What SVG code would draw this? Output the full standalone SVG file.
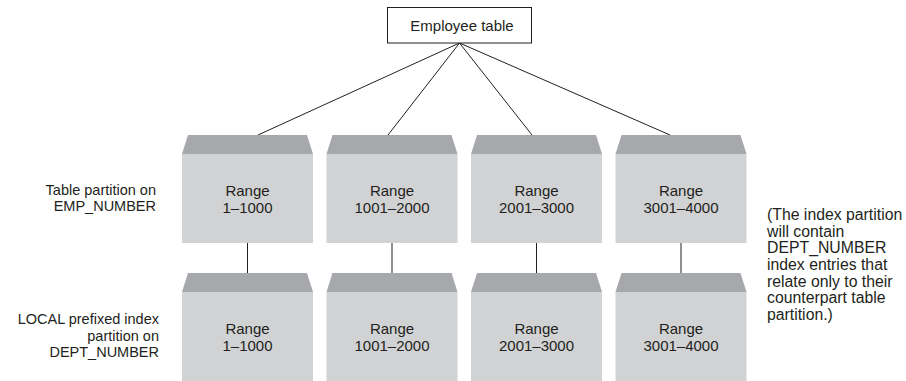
<svg xmlns="http://www.w3.org/2000/svg" width="906" height="381" viewBox="0 0 906 381">
  <defs>
    <style>
      text { font-family: "Liberation Sans", Arial, sans-serif; font-size: 15px; fill: #231f20; }
      .mid { text-anchor: middle; }
      .end { text-anchor: end; }
      .lbl { font-size: 14.5px; }
      .side { font-size: 15.8px; }
      .roof { fill: #a7a8ab; }
      .body { fill: #d1d2d4; }
      .wire { stroke: #231f20; stroke-width: 1; fill: none; }
      .root { fill: #ffffff; stroke: #231f20; stroke-width: 1; }
    </style>
    <!-- partition block: sloped roof above a flat body, 131 wide -->
    <g id="block">
      <polygon class="roof" points="6,0 125,0 131,19 0,19"/>
      <rect class="body" x="0" y="19" width="131" height="89"/>
    </g>
  </defs>

  <rect width="906" height="381" fill="#ffffff"/>

  <!-- connectors -->
  <g id="connectors">
    <line class="wire" x1="459.5" y1="43" x2="258" y2="135"/>
    <line class="wire" x1="459.5" y1="43" x2="388" y2="135"/>
    <line class="wire" x1="459.5" y1="43" x2="532" y2="135"/>
    <line class="wire" x1="459.5" y1="43" x2="670" y2="135"/>
    <line class="wire" x1="247.5" y1="243" x2="247.5" y2="273"/>
    <line class="wire" x1="392" y1="243" x2="392" y2="273"/>
    <line class="wire" x1="536.5" y1="243" x2="536.5" y2="273"/>
    <line class="wire" x1="681" y1="243" x2="681" y2="273"/>
  </g>

  <!-- root table -->
  <g id="employee-table">
    <rect class="root" x="387.5" y="7.5" width="144" height="35.5"/>
    <text class="mid" x="462" y="31">Employee table</text>
  </g>

  <!-- table partitions -->
  <g id="tp1">
    <use href="#block" x="182" y="135"/>
    <text class="mid" x="247.5" y="196">Range</text>
    <text class="mid" x="247.5" y="213">1–1000</text>
  </g>
  <g id="tp2">
    <use href="#block" x="326.5" y="135"/>
    <text class="mid" x="392" y="196">Range</text>
    <text class="mid" x="392" y="213">1001–2000</text>
  </g>
  <g id="tp3">
    <use href="#block" x="471" y="135"/>
    <text class="mid" x="536.5" y="196">Range</text>
    <text class="mid" x="536.5" y="213">2001–3000</text>
  </g>
  <g id="tp4">
    <use href="#block" x="615.5" y="135"/>
    <text class="mid" x="681" y="196">Range</text>
    <text class="mid" x="681" y="213">3001–4000</text>
  </g>

  <!-- index partitions -->
  <g id="ip1">
    <use href="#block" x="182" y="273"/>
    <text class="mid" x="247.5" y="334">Range</text>
    <text class="mid" x="247.5" y="351">1–1000</text>
  </g>
  <g id="ip2">
    <use href="#block" x="326.5" y="273"/>
    <text class="mid" x="392" y="334">Range</text>
    <text class="mid" x="392" y="351">1001–2000</text>
  </g>
  <g id="ip3">
    <use href="#block" x="471" y="273"/>
    <text class="mid" x="536.5" y="334">Range</text>
    <text class="mid" x="536.5" y="351">2001–3000</text>
  </g>
  <g id="ip4">
    <use href="#block" x="615.5" y="273"/>
    <text class="mid" x="681" y="334">Range</text>
    <text class="mid" x="681" y="351">3001–4000</text>
  </g>

  <!-- row captions -->
  <g id="caption-table">
    <text class="end lbl" x="156" y="195">Table partition on</text>
    <text class="end lbl" x="156" y="211">EMP_NUMBER</text>
  </g>
  <g id="caption-index">
    <text class="end lbl" x="159" y="324">LOCAL prefixed index</text>
    <text class="end lbl" x="159" y="341">partition on</text>
    <text class="end lbl" x="159" y="357">DEPT_NUMBER</text>
  </g>

  <!-- side note -->
  <g id="note" class="side">
    <text class="side" x="767" y="220">(The index partition</text>
    <text class="side" x="767" y="237">will contain</text>
    <text class="side" x="767" y="253">DEPT_NUMBER</text>
    <text class="side" x="767" y="270">index entries that</text>
    <text class="side" x="767" y="287">relate only to their</text>
    <text class="side" x="767" y="303">counterpart table</text>
    <text class="side" x="767" y="320">partition.)</text>
  </g>
</svg>
